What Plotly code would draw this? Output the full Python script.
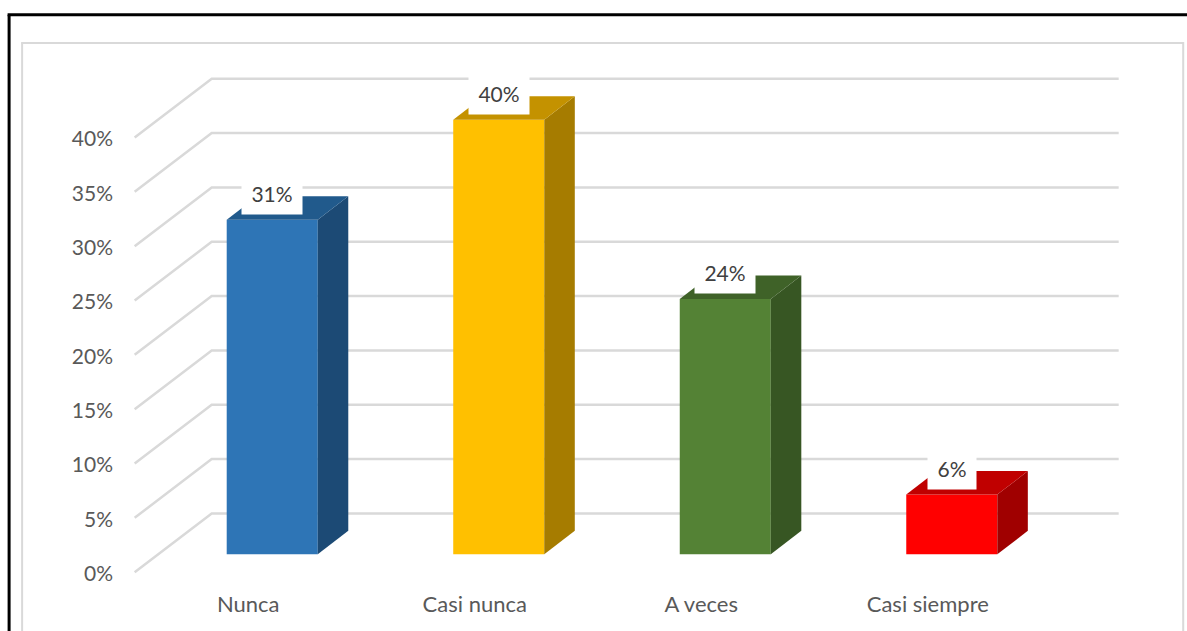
import plotly.graph_objects as go

categories = ["Nunca", "Casi nunca", "A veces", "Casi siempre"]
values = [30.8, 40.0, 23.5, 5.5]
y_ticks = [0, 5, 10, 15, 20, 25, 30, 35, 40]

front_colors = ["#2e75b6", "#ffc000", "#548235", "#ff0000"]
side_colors = ["#1c4a75", "#a67c00", "#375623", "#a00000"]
top_colors = ["#215a8c", "#c49200", "#3f6228", "#c00000"]

W, H = 1187, 631
PX_X = 226.4          # pixels per category
PX_Y = 10.875         # pixels per percent
X0_PX = 272.5         # pixel of first category
Y0_PX = 572.5         # pixel of 0 %
X_RANGE = [-0.65, 3.80]
Y_RANGE = [-1.0, 46.4]

L = X0_PX + X_RANGE[0] * PX_X
R = X0_PX + X_RANGE[1] * PX_X
B = Y0_PX - Y_RANGE[0] * PX_Y
T = Y0_PX - Y_RANGE[1] * PX_Y

BAR_W = 91 / PX_X
BAR_BASE = 17.8 / PX_Y
DEPTH_X = 30.5 / PX_X
DEPTH_Y = 23.5 / PX_Y
WALL_X = 77 / PX_X
WALL_Y = 58.8 / PX_Y
GRID_LEFT = (135 - X0_PX) / PX_X
GRID_RIGHT = (1118.5 - X0_PX) / PX_X
LABEL_SHIFT = 24 / PX_X
LABEL_LIFT = 27 / PX_Y
Y_LABEL_DROP = 1.5 / PX_Y

def xp(px):
    return (px - L) / (R - L)

def yp(px):
    return (B - px) / (B - T)

fig = go.Figure()

# Walls and grid live on the main axes; the columns sit on an overlay pair above them.
gx, gy = [], []
for t in y_ticks:
    gx += [GRID_LEFT, GRID_LEFT + WALL_X, GRID_RIGHT, None]
    gy += [t, t + WALL_Y, t + WALL_Y, None]
fig.add_trace(go.Scatter(x=gx, y=gy, mode="lines",
                         line=dict(color="#d9d9d9", width=2.5),
                         hoverinfo="skip", showlegend=False))

for i, v in enumerate(values):
    xl = i - BAR_W / 2
    xr = i + BAR_W / 2
    low = BAR_BASE
    high = BAR_BASE + v
    fig.add_trace(go.Scatter(
        x=[xr, xr + DEPTH_X, xr + DEPTH_X, xr, xr],
        y=[low, low + DEPTH_Y, high + DEPTH_Y, high, low],
        xaxis="x2", yaxis="y2",
        mode="lines", fill="toself", fillcolor=side_colors[i],
        line=dict(width=0), hoverinfo="skip", showlegend=False))
    fig.add_trace(go.Scatter(
        x=[xl, xl + DEPTH_X, xr + DEPTH_X, xr, xl],
        y=[high, high + DEPTH_Y, high + DEPTH_Y, high, high],
        xaxis="x2", yaxis="y2",
        mode="lines", fill="toself", fillcolor=top_colors[i],
        line=dict(width=0), hoverinfo="skip", showlegend=False))

fig.add_trace(go.Bar(
    x=list(range(len(categories))), y=values, base=[BAR_BASE] * len(values),
    xaxis="x2", yaxis="y2",
    width=BAR_W, marker=dict(color=front_colors, line=dict(width=0)),
    customdata=categories, hovertemplate="%{customdata}: %{y}%<extra></extra>",
    showlegend=False))

for i, v in enumerate(values):
    fig.add_annotation(
        x=i, y=BAR_BASE + v + LABEL_LIFT, xref="x", yref="y",
        text=f"{int(v + 0.5)}%",
        showarrow=False, bgcolor="#ffffff",
        width=58 if v >= 10 else 46, height=40,
        font=dict(family="Lato", size=21, color="#404040"),
        xanchor="center", yanchor="middle")

frame = [
    dict(x0=xp(9.5), y0=yp(640), x1=xp(9.5), y1=yp(14.5), color="#000000", width=3),
    dict(x0=xp(8), y0=yp(14.5), x1=xp(1195), y1=yp(14.5), color="#000000", width=3),
    dict(x0=xp(22.5), y0=yp(640), x1=xp(22.5), y1=yp(43), color="#d9d9d9", width=2),
    dict(x0=xp(21.5), y0=yp(43), x1=xp(1183.5), y1=yp(43), color="#d9d9d9", width=2),
    dict(x0=xp(1183), y0=yp(42), x1=xp(1183), y1=yp(640), color="#d9d9d9", width=2),
]
shapes = [dict(type="line", xref="paper", yref="paper",
               x0=f["x0"], y0=f["y0"], x1=f["x1"], y1=f["y1"],
               line=dict(color=f["color"], width=f["width"]), layer="below")
          for f in frame]

fig.update_layout(
    width=W, height=H,
    margin=dict(l=L, r=W - R, t=T, b=H - B, pad=0),
    paper_bgcolor="#ffffff", plot_bgcolor="rgba(0,0,0,0)",
    showlegend=False, shapes=shapes,
    font=dict(family="Lato", size=20, color="#595959"),
    xaxis=dict(range=X_RANGE, showgrid=False, zeroline=False, showline=False,
               ticks="", tickmode="array",
               tickvals=[i - LABEL_SHIFT for i in range(len(categories))],
               ticktext=categories, ticklabelstandoff=6,
               tickfont=dict(family="Lato", size=22, color="#595959")),
    yaxis=dict(range=Y_RANGE, showgrid=False, zeroline=False, showline=False,
               ticks="", tickmode="array",
               tickvals=[t - Y_LABEL_DROP for t in y_ticks],
               ticktext=[f"{t}%" for t in y_ticks], ticklabelstandoff=11,
               tickfont=dict(family="Lato", size=21, color="#595959")),
    xaxis2=dict(range=X_RANGE, overlaying="x", visible=False),
    yaxis2=dict(range=Y_RANGE, overlaying="y", visible=False),
)

fig.write_html("out.html", post_script="document.body.style.margin='0';",
               config=dict(displayModeBar=False))
